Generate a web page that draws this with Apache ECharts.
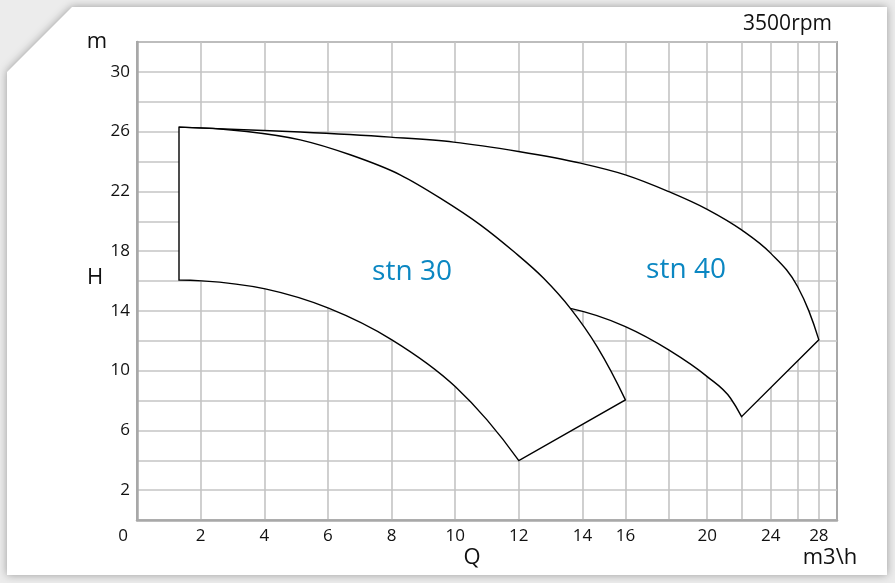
<!DOCTYPE html>
<html>
<head>
<meta charset="utf-8">
<script src="https://cdn.jsdelivr.net/npm/echarts@6/dist/echarts.min.js"></script>
<style>
html, body { margin: 0; padding: 0; background: #fff; }
#chart { width: 895px; height: 583px; }
</style>
</head>
<body>
<div id="chart"></div>
<script>
// Q axis is compressed above 14 m3/h: grid values and where they sit on a linear scale
var qGrid = [0, 2, 4, 6, 8, 10, 12, 14, 16, 18, 20, 22, 24, 26, 28, 30];
var qWarp = [0, 2, 4, 6, 8, 10, 12, 14, 15.35, 16.71, 17.92, 19.0, 19.92, 20.76, 21.43, 22];
var qLabels = [0, 2, 4, 6, 8, 10, 12, 14, 16, 20, 24, 28];
var hLabels = [2, 6, 10, 14, 18, 22, 26, 30];

// [Q, H]
var stn30Top = [[1.32, 26.3], [3.45, 26.01], [5.13, 25.45], [6.7, 24.45], [8.27, 23.11], [9.53, 21.55],
  [10.79, 19.76], [11.84, 17.97], [12.78, 16.18], [13.62, 14.17], [14.68, 11.61], [16, 8.04]];
var stn30Low = [[1.32, 16.07], [2.04, 16.01], [4.03, 15.47], [6.02, 14.18], [8.01, 12.06], [10.0, 8.93],
  [11.0, 6.7], [12.0, 3.97]];
var stn40Top = [[1.32, 26.3], [3.97, 26.08], [5.13, 25.97], [7.96, 25.63], [9.95, 25.3], [11.99, 24.67],
  [13.94, 23.89], [16, 23.11], [18, 21.99], [20, 20.8], [22, 19.42], [24, 17.85], [26, 15.63],
  [27.06, 14.0], [28, 12.06]];
var stn40Low = [[13.62, 14.17], [16, 12.95], [18, 11.39], [20, 9.6], [21.36, 8.15], [22, 6.92]];

function warp (q) {
  for (var i = 0; i < qGrid.length - 1; i++) {
    if (q <= qGrid[i + 1]) {
      return qWarp[i] + (q - qGrid[i]) / (qGrid[i + 1] - qGrid[i]) * (qWarp[i + 1] - qWarp[i]);
    }
  }
  return qWarp[qWarp.length - 1];
}
function unwarp (w) {
  for (var i = 0; i < qWarp.length; i++) {
    if (Math.abs(qWarp[i] - w) < 1e-6) return qGrid[i];
  }
  return '';
}

// smooth curve y(x) through pixel points (hermite, 3-point slopes), as svg path pieces
function curve (pts, move) {
  var n = pts.length, h = [], s = [], m = [], i;
  for (i = 0; i < n - 1; i++) {
    h[i] = pts[i + 1][0] - pts[i][0];
    s[i] = (pts[i + 1][1] - pts[i][1]) / h[i];
  }
  for (i = 1; i < n - 1; i++) {
    m[i] = (h[i - 1] * s[i] + h[i] * s[i - 1]) / (h[i - 1] + h[i]);
  }
  if (n > 2) {
    m[0] = ((2 * h[0] + h[1]) * s[0] - h[0] * s[1]) / (h[0] + h[1]);
    m[n - 1] = ((2 * h[n - 2] + h[n - 3]) * s[n - 2] - h[n - 2] * s[n - 3]) / (h[n - 2] + h[n - 3]);
  } else {
    m[0] = m[1] = s[0];
  }
  var out = (move ? 'M' : 'L') + pts[0][0] + ' ' + pts[0][1];
  for (i = 0; i < n - 1; i++) {
    var p1 = pts[i], p2 = pts[i + 1], k = h[i] / 3;
    out += ' C' + (p1[0] + k) + ' ' + (p1[1] + m[i] * k) + ' ' +
      (p2[0] - k) + ' ' + (p2[1] - m[i + 1] * k) + ' ' + p2[0] + ' ' + p2[1];
  }
  return out;
}

function renderItem (params, api) {
  var px = function (p) { return api.coord([warp(p[0]), p[1]]) }
  var t30 = stn30Top.map(px)
  var l30 = stn30Low.map(px).reverse()
  var t40 = stn40Top.map(px)
  var l40 = stn40Low.map(px).reverse()
  var path30 = curve(t30, true) + ' ' + curve(l30, false) + ' Z'
  var path40 = curve(t40, true) + ' ' + curve(l40, false)
  return {
    type: 'group',
    children: [
      { type: 'path', shape: { pathData: path40 + ' Z' }, style: { fill: '#fff', stroke: null } },
      { type: 'path', shape: { pathData: path30 }, style: { fill: '#fff', stroke: null } },
      { type: 'path', shape: { pathData: path30 }, style: { fill: null, stroke: '#000', lineWidth: 1.4 } },
      { type: 'path', shape: { pathData: path40 }, style: { fill: null, stroke: '#000', lineWidth: 1.4 } }
    ]
  }
}

var font = '"Open Sans", sans-serif'
var chart = echarts.init(document.getElementById('chart'))
chart.setOption({
  animation: false,
  backgroundColor: '#ececec',
  graphic: [
    {
      type: 'polygon',
      z: -10,
      shape: { points: [[72, 7], [887, 7], [887, 575], [7, 575], [7, 72]] },
      style: { fill: '#fff', shadowBlur: 8, shadowColor: 'rgba(0,0,0,0.35)' }
    },
    { type: 'text', x: 97, y: 42, style: { text: 'm', font: '22px ' + font, fill: '#111', align: 'center', verticalAlign: 'middle' } },
    { type: 'text', x: 95, y: 278, style: { text: 'H', font: '22px ' + font, fill: '#111', align: 'center', verticalAlign: 'middle' } },
    { type: 'text', x: 472, y: 558, style: { text: 'Q', font: '22px ' + font, fill: '#111', align: 'center', verticalAlign: 'middle' } },
    { type: 'text', x: 830, y: 558, style: { text: 'm3\\h', font: '22px ' + font, fill: '#111', align: 'center', verticalAlign: 'middle' } },
    { type: 'text', x: 832, y: 24, style: { text: '3500rpm', font: '21px ' + font, fill: '#111', align: 'right', verticalAlign: 'middle' } },
    { type: 'text', x: 412, y: 272, z: 10, style: { text: 'stn 30', font: '28px ' + font, fill: '#0b87c2', align: 'center', verticalAlign: 'middle' } },
    { type: 'text', x: 686, y: 270, z: 10, style: { text: 'stn 40', font: '28px ' + font, fill: '#0b87c2', align: 'center', verticalAlign: 'middle' } }
  ],
  grid: {
    left: 137, right: 58, top: 42, bottom: 63,
    show: true, borderColor: '#a8a8a8', borderWidth: 2
  },
  xAxis: {
    type: 'value',
    min: 0,
    max: qWarp[qWarp.length - 1],
    axisLine: { lineStyle: { color: '#a8a8a8', width: 2.5 } },
    axisTick: { show: false, customValues: qWarp.slice(1, qWarp.length - 1) },
    splitLine: { lineStyle: { color: '#c4c4c4', width: 1.6 } },
    axisLabel: {
      customValues: qLabels.map(warp),
      margin: 8,
      color: '#111',
      fontFamily: font,
      fontSize: 17,
      formatter: function (v) {
        var q = unwarp(v)
        return q === 0 ? '{z|0}' : String(q)
      },
      rich: { z: { padding: [0, 28, 0, 0], fontFamily: font, fontSize: 17, color: '#111' } }
    }
  },
  yAxis: {
    type: 'value',
    min: 0,
    max: 32,
    interval: 2,
    axisLine: { show: true, lineStyle: { color: '#a8a8a8', width: 2.5 } },
    axisTick: { show: false },
    splitLine: { lineStyle: { color: '#c4c4c4', width: 1.6 } },
    axisLabel: {
      customValues: hLabels,
      margin: 7,
      color: '#111',
      fontFamily: font,
      fontSize: 17
    }
  },
  series: [{
    type: 'custom',
    coordinateSystem: 'cartesian2d',
    renderItem: renderItem,
    data: [[0, 0]],
    z: 5
  }]
})
</script>
</body>
</html>
